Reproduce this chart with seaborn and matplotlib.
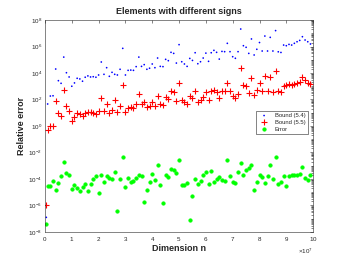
import matplotlib
matplotlib.use('Agg')
import matplotlib.pyplot as plt
import matplotlib.ticker as mticker
import seaborn as sns
import numpy as np
import pandas as pd

# dimension n, in units of 1e6
dimension_1e6 = [0.5, 1, 2, 3, 4, 5, 6, 7, 8, 9,
                 10, 11, 12, 13, 14, 15, 16, 17, 18, 19,
                 20, 21, 22, 23, 24, 25, 26, 27, 28, 29,
                 30, 31, 32, 33, 34, 35, 36, 37, 38, 39,
                 40, 41, 42, 43, 44, 45, 46, 47, 48, 49,
                 50, 51, 52, 53, 54, 55, 56, 57, 58, 59,
                 60, 61, 62, 63, 64, 65, 66, 67, 68, 69,
                 70, 71, 72, 73, 74, 75, 76, 77, 78, 79,
                 80, 81, 82, 83, 84, 85, 86, 87, 88, 89,
                 90, 91, 92, 93, 94, 95, 96, 97, 98, 99]

# log10 of the values
bound54_log10 = [-6.9, 1.66, 2.26, 2.28, 4.3, 3.42, 3.22, 5.2, 4.02, 3.7,
                 3.0, 3.25, 3.6, 3.55, 3.38, 3.68, 3.78, 3.7, 3.72, 3.68,
                 3.85, 4.83, 3.9, 4.4, 3.75, 4.05, 3.9, 3.85, 4.28, 5.86,
                 3.85, 4.2, 4.22, 4.2, 4.48, 5.2, 4.5, 4.63, 4.28, 4.36,
                 4.68, 4.4, 5.13, 4.5, 4.48, 5.03, 4.93, 5.56, 5.48, 4.75,
                 6.14, 4.85, 4.68, 4.5, 5.1, 4.95, 5.53, 4.7, 4.85, 5.13,
                 5.5, 4.88, 5.53, 5.71, 5.56, 5.05, 5.63, 5.61, 6.24, 5.61,
                 5.23, 5.11, 5.61, 7.32, 6.06, 5.94, 5.48, 6.57, 5.36, 5.79,
                 6.3, 5.66, 6.79, 5.66, 6.69, 5.66, 7.2, 5.6, 5.55, 6.11,
                 6.06, 6.16, 6.11, 6.24, 6.36, 6.46, 6.74, 6.49, 6.36, 6.19]

bound55_log10 = [-6.0, -0.3, 0.03, 0.0, 1.91, 1.0, 0.75, 2.72, 1.53, 1.13,
                 0.4, 0.7, 0.96, 0.9, 0.75, 1.0, 1.05, 1.03, 1.0, 0.93,
                 1.16, 2.14, 1.13, 1.63, 0.96, 1.23, 1.96, 1.03, 1.49, 3.07,
                 1.08, 1.38, 1.4, 1.38, 1.66, 2.39, 1.66, 1.79, 1.4, 1.49,
                 1.81, 1.51, 2.29, 1.66, 1.61, 2.19, 2.06, 2.67, 2.6, 1.86,
                 3.22, 1.96, 1.81, 1.63, 2.24, 2.11, 2.67, 1.84, 1.96, 2.19,
                 2.54, 1.94, 2.67, 2.72, 2.54, 2.09, 2.62, 2.64, 3.22, 2.64,
                 2.26, 2.14, 2.42, 4.35, 3.09, 3.0, 2.51, 3.6, 2.34, 2.72,
                 3.22, 2.64, 3.77, 2.64, 3.7, 2.54, 4.15, 2.64, 2.54, 3.04,
                 3.09, 3.14, 3.09, 3.17, 3.22, 3.3, 3.67, 3.47, 3.27, 3.17]

error_log10 = [-7.37, -4.5, -4.5, -4.13, -4.83, -4.33, -3.8, -2.69, -3.57, -3.72,
               -4.73, -4.45, -4.7, -4.9, -4.63, -4.4, -4.88, -4.35, -4.03, -3.77,
               -5.08, -3.67, -4.25, -3.77, -3.92, -4.03, -3.47, -6.42, -4.0, -2.34,
               -4.63, -3.92, -4.22, -4.15, -3.95, -3.67, -3.75, -5.74, -4.86, -4.2,
               -3.62, -4.1, -2.94, -4.45, -5.79, -3.7, -3.85, -3.22, -3.32, -3.57,
               -2.57, -4.45, -4.47, -4.33, -7.12, -5.31, -3.97, -4.4, -4.15, -3.7,
               -3.47, -4.38, -3.42, -4.2, -4.03, -3.87, -4.08, -4.15, -2.54, -3.77,
               -4.23, -4.28, -3.45, -2.77, -3.67, -3.3, -3.14, -2.94, -4.83, -4.25,
               -3.7, -3.87, -4.28, -3.77, -2.94, -4.03, -2.34, -4.38, -4.25, -3.77,
               -4.53, -3.77, -3.7, -3.7, -3.72, -3.62, -3.09, -3.9, -4.08, -3.67]

sns.set_theme(style='white')
plt.rcParams['font.family'] = ['Liberation Sans', 'DejaVu Sans']
plt.rcParams['mathtext.fontset'] = 'custom'
plt.rcParams['mathtext.rm'] = 'Liberation Sans'

df = pd.DataFrame({
    'n': np.array(dimension_1e6) * 1e6,
    'b54': 10.0 ** np.array(bound54_log10),
    'b55': 10.0 ** np.array(bound55_log10),
    'err': 10.0 ** np.array(error_log10),
})

fig = plt.figure(figsize=(3.46, 2.60), dpi=100)
ax = fig.add_axes([0.130, 0.108, 0.775, 0.815])

sns.scatterplot(data=df, x='n', y='b54', marker='.', s=6, color='#0000ff',
                edgecolor='none', ax=ax, label='Bound (5.4)')
sns.scatterplot(data=df, x='n', y='b55', marker='+', s=16, color='#ff0000',
                linewidth=0.8, ax=ax, label='Bound (5.5)')
sns.scatterplot(data=df, x='n', y='err', marker='o', s=7, color='#00ff00',
                edgecolor='#00ff00', linewidth=0.3, ax=ax, label='Error')

ax.set_yscale('log')
ax.set_xlim(0, 1e8)
ax.set_ylim(1e-8, 1e8)

# x ticks 0..10 with a fixed x10^7 multiplier
ax.xaxis.set_major_locator(mticker.MultipleLocator(1e7))
fmt = mticker.ScalarFormatter(useMathText=True)
fmt.set_powerlimits((7, 7))
ax.xaxis.set_major_formatter(fmt)
ax.yaxis.set_major_locator(mticker.FixedLocator([10.0 ** k for k in range(-8, 9, 2)]))
ax.yaxis.set_minor_locator(mticker.LogLocator(base=10, subs=np.arange(1, 10), numticks=40))
ax.yaxis.set_minor_formatter(mticker.NullFormatter())

tick_col = '#262626'
ax.tick_params(which='both', direction='in', top=True, right=True,
               colors=tick_col, labelsize=4.5, width=0.4, pad=2)
ax.tick_params(which='major', length=2.5)
ax.tick_params(which='minor', length=1.3)
ax.xaxis.get_offset_text().set_fontsize(4.5)
ax.xaxis.get_offset_text().set_color(tick_col)
for sp in ax.spines.values():
    sp.set_linewidth(0.4)
    sp.set_color(tick_col)

ax.set_title('Elements with different signs', fontsize=6.5, fontweight='bold', pad=4)
ax.set_xlabel('Dimension n', fontsize=6.5, fontweight='bold', labelpad=1)
ax.set_ylabel('Relative error', fontsize=6.5, fontweight='bold', labelpad=2)

leg = ax.legend(loc='lower right', bbox_to_anchor=(0.99, 0.448), fontsize=4.2,
                frameon=True, fancybox=False, edgecolor='#262626', framealpha=1,
                borderpad=0.4, handletextpad=0.8, labelspacing=0.3, markerscale=1.0)
leg.get_frame().set_linewidth(0.4)

fig.savefig('out.png', dpi=100)
